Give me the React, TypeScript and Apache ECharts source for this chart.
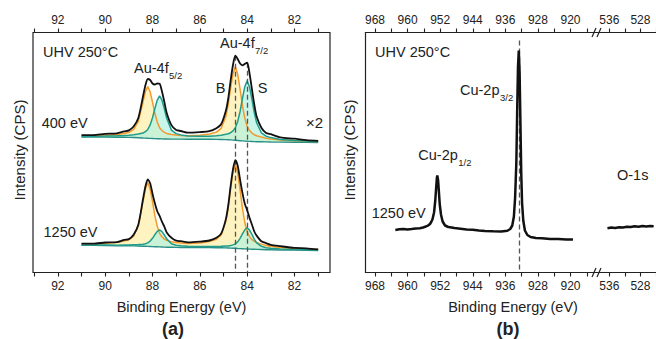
import React, { useEffect, useRef } from "react";
import * as echarts from "echarts";

// ---------- Panel (a): Au-4f ----------
const energyAu = [91.0, 90.5, 90.0, 89.5, 89.2, 89.0, 88.8, 88.6, 88.4, 88.3, 88.2, 88.1, 88.0, 87.9, 87.8, 87.7, 87.6, 87.5, 87.4, 87.2, 87.0, 86.8, 86.5, 86.0, 85.6, 85.3, 85.1, 84.9, 84.8, 84.7, 84.6, 84.5, 84.4, 84.3, 84.2, 84.1, 84.0, 83.9, 83.8, 83.7, 83.6, 83.4, 83.2, 83.0, 82.6, 82.0, 81.5, 81.0];

const baseline400 = [135.5, 135.5, 135.4, 135.3, 135.2, 135.1, 135.0, 134.8, 134.5, 134.4, 134.2, 134.1, 134.0, 133.9, 133.8, 133.7, 133.6, 133.5, 133.5, 133.4, 133.4, 133.4, 133.3, 133.3, 133.2, 133.1, 133.0, 132.9, 132.8, 132.6, 132.4, 132.2, 132.0, 131.8, 131.6, 131.4, 131.2, 131.1, 131.0, 130.9, 130.8, 130.7, 130.6, 130.5, 130.4, 130.3, 130.2, 130.0];
const bulk400 = [1.0, 1.4, 1.9, 2.8, 3.9, 5.1, 7.9, 16.4, 36.3, 46.6, 51.7, 46.6, 36.4, 25.3, 16.7, 11.1, 8.4, 6.6, 5.6, 4.7, 4.0, 3.7, 3.5, 3.9, 5.3, 7.3, 11.2, 23.2, 35.5, 51.6, 66.2, 73.5, 66.2, 51.6, 35.4, 23.0, 15.0, 11.0, 8.4, 6.9, 6.0, 4.7, 3.7, 3.1, 2.2, 1.5, 1.1, 0.9];
const surface400 = [0.6, 0.8, 1.0, 1.4, 1.8, 2.2, 2.8, 3.6, 5.0, 6.5, 8.8, 13.5, 20.7, 30.1, 38.6, 42.9, 38.7, 30.2, 20.8, 9.0, 5.5, 4.2, 3.3, 2.9, 3.1, 3.6, 4.3, 5.3, 6.0, 7.2, 9.2, 12.5, 19.1, 29.2, 42.4, 54.4, 60.4, 54.4, 42.4, 29.1, 18.9, 9.0, 5.7, 4.4, 2.7, 1.7, 1.3, 0.9];
const envelope400 = [137.3, 137.4, 138.6, 139.2, 141.2, 142.1, 146.0, 154.5, 176.2, 187.2, 193.5, 192.5, 189.0, 188.0, 189.0, 188.8, 181.0, 170.6, 159.6, 147.4, 142.6, 141.5, 139.8, 140.4, 141.3, 144.3, 148.2, 161.7, 174.0, 191.8, 207.5, 216.8, 213.5, 209.0, 207.2, 208.6, 209.8, 199.0, 183.5, 168.0, 156.0, 144.8, 139.6, 138.3, 135.1, 133.8, 132.3, 131.6];

const baseline1250 = [27.2, 27.1, 27.0, 26.8, 26.75, 26.7, 26.6, 26.5, 26.3, 26.2, 26.1, 26.0, 25.9, 25.8, 25.7, 25.6, 25.5, 25.4, 25.3, 25.2, 25.1, 25.05, 25.0, 25.0, 24.9, 24.8, 24.7, 24.6, 24.5, 24.4, 24.3, 24.2, 24.0, 23.9, 23.8, 23.6, 23.5, 23.4, 23.3, 23.2, 23.1, 23.0, 22.8, 22.7, 22.5, 22.4, 22.2, 22.0];
const bulk1250 = [1.2, 1.7, 2.3, 3.4, 4.8, 6.2, 9.7, 20.2, 44.8, 57.5, 63.8, 57.5, 44.9, 31.1, 20.5, 13.6, 10.2, 8.0, 6.8, 5.6, 4.8, 4.4, 4.1, 4.6, 6.1, 8.4, 12.9, 26.6, 40.7, 59.1, 75.8, 84.1, 75.8, 59.0, 40.6, 26.4, 17.2, 12.5, 9.6, 7.9, 6.9, 5.4, 4.3, 3.6, 2.5, 1.8, 1.3, 1.0];
const surface1250 = [0.2, 0.3, 0.4, 0.5, 0.7, 0.8, 1.1, 1.4, 2.0, 2.6, 3.5, 5.4, 8.3, 12.0, 15.4, 17.1, 15.4, 12.1, 8.3, 3.6, 2.1, 1.6, 1.3, 1.1, 1.2, 1.3, 1.5, 1.9, 2.1, 2.5, 3.3, 4.4, 6.7, 10.3, 14.9, 19.1, 21.2, 19.0, 14.8, 10.2, 6.6, 3.2, 2.0, 1.6, 1.0, 0.6, 0.5, 0.3];
const envelope1250 = [28.9, 28.8, 30.0, 30.4, 32.6, 33.4, 37.8, 47.8, 73.5, 86.0, 93.2, 89.3, 78.8, 69.2, 61.3, 56.6, 50.8, 45.8, 40.1, 34.7, 31.8, 31.3, 30.2, 30.9, 32.0, 34.8, 38.8, 53.4, 67.0, 86.3, 103.1, 112.4, 106.8, 92.9, 79.6, 68.8, 62.2, 54.6, 48.0, 41.0, 36.9, 31.3, 29.4, 27.6, 26.3, 24.6, 24.2, 23.1];

const refAuEnergy = [84.5, 84.0];
const refAuTop = [216.8, 209.8];

const ticksAu = [93, 92, 91, 90, 89, 88, 87, 86, 85, 84, 83, 82, 81];
const labelsAu = [92, 90, 88, 86, 84, 82];

// ---------- Panel (b): Cu-2p and O-1s ----------
const energyCu = [963.0, 962.0, 961.0, 960.0, 959.0, 958.0, 957.0, 956.2, 955.5, 954.9, 954.5, 954.2, 953.9, 953.5, 953.2, 953.0, 952.8, 952.7, 952.5, 952.3, 952.1, 951.8, 951.4, 950.8, 950.0, 949.2, 948.5, 947.0, 945.5, 944.0, 942.5, 941.0, 939.0, 937.0, 935.5, 934.8, 934.3, 933.9, 933.6, 933.3, 933.1, 932.9, 932.7, 932.5, 932.3, 932.1, 931.9, 931.6, 931.2, 930.6, 929.8, 928.5, 927.0, 925.0, 923.0, 921.0, 919.4];
const intensityCu = [42.5, 43.2, 43.6, 43.0, 43.4, 43.9, 44.2, 45.0, 46.0, 47.2, 48.5, 50.5, 53.0, 60.0, 72.0, 84.0, 95.0, 97.0, 92.0, 80.0, 68.0, 58.0, 51.0, 47.0, 45.5, 45.0, 44.5, 43.8, 43.0, 42.8, 42.0, 41.5, 41.2, 41.0, 41.8, 43.5, 47.0, 56.0, 75.0, 110.0, 160.0, 205.0, 222.0, 200.0, 150.0, 100.0, 70.0, 52.0, 42.0, 37.5, 35.5, 34.5, 34.2, 33.6, 33.4, 33.0, 32.9];
const energyO = [536.5, 535.5, 534.5, 533.5, 532.5, 531.5, 530.5, 529.5, 528.5, 527.5, 526.5, 525.5, 524.6];
const intensityO = [44.3, 44.9, 44.6, 45.3, 45.1, 45.8, 45.5, 46.2, 45.7, 46.4, 46.0, 46.5, 46.2];

const refCuEnergy = [932.7];
const refCuTop = [232];

const ticksCu = [968, 964, 960, 956, 952, 948, 944, 940, 936, 932, 928, 924, 920, 916];
const labelsCu = [968, 960, 952, 944, 936, 928, 920];
const ticksO = [536, 532, 528, 524];
const labelsO = [536, 528];

const FONT = "'Liberation Sans', Arial, sans-serif";
const INK = "#222";

const pair = (xs: number[], ys: number[]) => xs.map((x, i) => [x, ys[i]]);
const addUp = (a: number[], b: number[]) => a.map((v, i) => v + b[i]);

function xAxis(gridIndex: number, position: string, min: number, max: number, ticks: number[], labels: number[], showLine: boolean) {
  return {
    type: "value",
    gridIndex,
    position,
    inverse: true,
    min,
    max,
    axisLine: { show: showLine, onZero: false, lineStyle: { color: INK, width: 1.2 } },
    axisTick: { show: true, inside: false, length: 4, customValues: ticks, lineStyle: { color: INK, width: 1.1 } },
    axisLabel: {
      show: true,
      customValues: labels,
      fontSize: 12,
      fontFamily: FONT,
      color: INK,
      margin: 7,
      formatter: (v: number) => String(v),
    },
    splitLine: { show: false },
  };
}

function yAxis(gridIndex: number, showLine: boolean) {
  return {
    type: "value",
    gridIndex,
    min: 0,
    max: 240,
    axisLine: { show: showLine, lineStyle: { color: INK, width: 1.2 } },
    axisTick: { show: false },
    axisLabel: { show: false },
    splitLine: { show: false },
  };
}

function fillSeries(base: number[], height: number[], color: string, opacity: number, z: number) {
  return {
    type: "custom",
    xAxisIndex: 0,
    yAxisIndex: 0,
    silent: true,
    z,
    data: [[energyAu[0], base[0]]],
    renderItem: (_params: any, api: any) => {
      const top = energyAu.map((e, i) => api.coord([e, base[i] + height[i]]));
      const bottom = energyAu.map((e, i) => api.coord([e, base[i]])).reverse();
      return {
        type: "polygon",
        shape: { points: top.concat(bottom) },
        style: { fill: color, opacity, stroke: "none" },
      };
    },
  };
}

function spectrumSeries(base: number[], bulk: number[], surf: number[], env: number[]) {
  const common = { type: "line", xAxisIndex: 0, yAxisIndex: 0, symbol: "none", silent: true };
  return [
    fillSeries(base, bulk, "#FFF3BE", 0.95, 1),
    fillSeries(base, surf, "#B4F1DF", 0.7, 2),
    { ...common, data: pair(energyAu, base), lineStyle: { color: "#2A8F86", width: 1.4 }, z: 3 },
    { ...common, data: pair(energyAu, addUp(base, bulk)), lineStyle: { color: "#F29A2E", width: 1.5 }, z: 4 },
    { ...common, data: pair(energyAu, addUp(base, surf)), lineStyle: { color: "#1F9C8B", width: 1.5 }, z: 4 },
    { ...common, data: pair(energyAu, env), smooth: 0.25, lineStyle: { color: "#111", width: 1.8 }, z: 5 },
  ];
}

function dashed(xs: number[], tops: number[]) {
  return {
    silent: true,
    symbol: ["none", "none"],
    label: { show: false },
    lineStyle: { type: [5, 3], color: "#555", width: 1.3 },
    data: xs.map((x, i) => [{ coord: [x, tops[i]] }, { coord: [x, 0] }]),
  };
}

function text(x: number, y: number, t: string, size = 14.5, align = "left", extra: any = {}) {
  const { bold, ...rest } = extra;
  return {
    type: "text",
    x,
    y,
    silent: true,
    z: 100,
    ...rest,
    style: {
      text: t,
      fontSize: size,
      fontFamily: FONT,
      fontWeight: bold ? "bold" : "normal",
      fill: INK,
      textAlign: align,
      align,
      textVerticalAlign: "middle",
      verticalAlign: "middle",
    },
  };
}

function slash(x: number, y: number) {
  return { type: "line", silent: true, z: 100, shape: { x1: x, y1: y + 4.5, x2: x + 4, y2: y - 4.5 }, style: { stroke: INK, lineWidth: 1.2 } };
}

export default function App() {
  const ref = useRef<HTMLDivElement>(null);
  useEffect(() => {
    const chart = echarts.init(ref.current!, null, { renderer: "svg" });
    const series: any[] = [
      ...spectrumSeries(baseline400, bulk400, surface400, envelope400),
      ...spectrumSeries(baseline1250, bulk1250, surface1250, envelope1250),
    ];
    series[series.length - 1].markLine = dashed(refAuEnergy, refAuTop);
    series.push({
      type: "line",
      xAxisIndex: 2,
      yAxisIndex: 1,
      symbol: "none",
      silent: true,
      data: pair(energyCu, intensityCu),
      lineStyle: { color: "#111", width: 2.5 },
      markLine: dashed(refCuEnergy, refCuTop),
      z: 5,
    });
    series.push({
      type: "line",
      xAxisIndex: 4,
      yAxisIndex: 2,
      symbol: "none",
      silent: true,
      data: pair(energyO, intensityO),
      lineStyle: { color: "#111", width: 2.5 },
      z: 5,
    });

    chart.setOption({
      animation: false,
      backgroundColor: "#fff",
      textStyle: { fontFamily: FONT },
      grid: [
        { left: 33, top: 32.5, width: 297, height: 240, show: true, borderColor: INK, borderWidth: 1.2, backgroundColor: "transparent" },
        { left: 365.5, top: 32.5, width: 231.5, height: 240 },
        { left: 597, top: 32.5, width: 62, height: 240 },
      ],
      xAxis: [
        xAxis(0, "bottom", 80.5, 93.05, ticksAu, labelsAu, false),
        xAxis(0, "top", 80.5, 93.05, ticksAu, labelsAu, false),
        xAxis(1, "bottom", 913.5, 970.33, ticksCu, labelsCu, true),
        xAxis(1, "top", 913.5, 970.33, ticksCu, labelsCu, true),
        xAxis(2, "bottom", 524, 539.19, ticksO, labelsO, true),
        xAxis(2, "top", 524, 539.19, ticksO, labelsO, true),
      ],
      yAxis: [yAxis(0, false), yAxis(1, true), yAxis(2, false)],
      series,
      graphic: [
        text(43, 52, "UHV 250°C"),
        text(134, 68.3, "Au-4f"),
        text(169, 75, "5/2", 9.5),
        text(220, 43.3, "Au-4f"),
        text(255, 50.5, "7/2", 9.5),
        text(220.5, 88.3, "B", 14.5, "center"),
        text(262.5, 88.3, "S", 14.5, "center"),
        text(41.7, 122.5, "400 eV"),
        text(43.5, 231.7, "1250 eV"),
        text(306, 122.5, "×2", 15),
        text(181.5, 307, "Binding Energy (eV)", 14.5, "center"),
        text(173, 329, "(a)", 18, "center", { bold: true }),
        text(19, 150, "Intensity (CPS)", 15, "center", { rotation: Math.PI / 2 }),
        text(375, 52, "UHV 250°C"),
        text(460, 90, "Cu-2p"),
        text(500, 97, "3/2", 9.5),
        text(418.3, 155, "Cu-2p"),
        text(458.3, 162.5, "1/2", 9.5),
        text(617, 175, "O-1s"),
        text(371.7, 212.7, "1250 eV"),
        text(513, 307, "Binding Energy (eV)", 14.5, "center"),
        text(508, 329, "(b)", 18, "center", { bold: true }),
        text(349, 150, "Intensity (CPS)", 15, "center", { rotation: Math.PI / 2 }),
        slash(592, 32.5),
        slash(597, 32.5),
        slash(592, 272.5),
        slash(597, 272.5),
      ],
    });
    return () => chart.dispose();
  }, []);
  return <div ref={ref} style={{ position: "fixed", left: 0, top: 0, width: 656, height: 339, background: "#fff" }} />;
}
